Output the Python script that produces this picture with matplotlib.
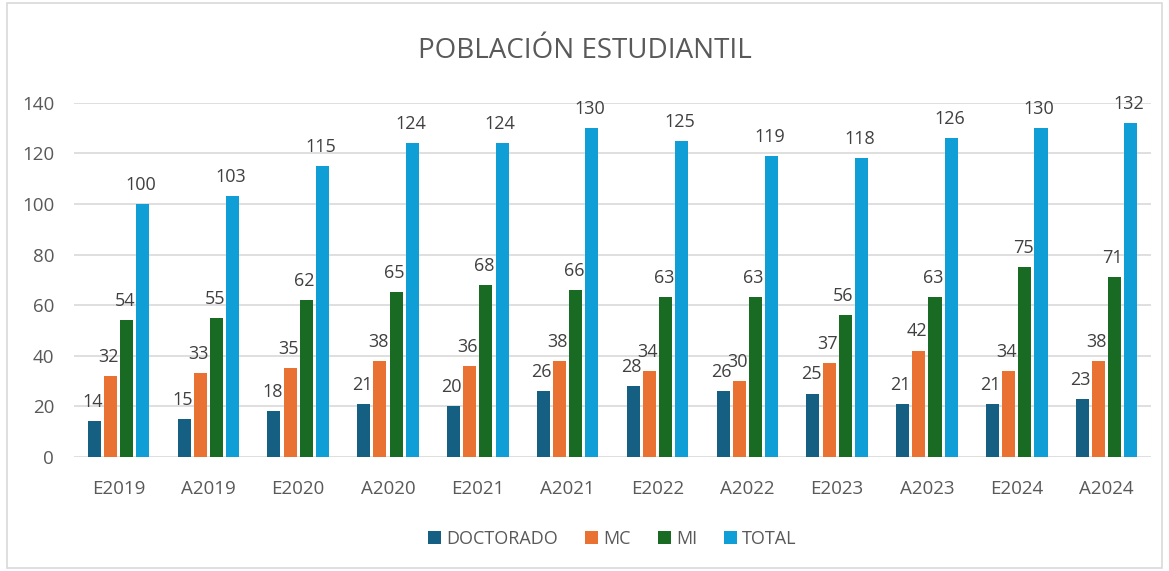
import matplotlib.pyplot as plt
import numpy as np

periodos = ['E2019', 'A2019', 'E2020', 'A2020', 'E2021', 'A2021',
            'E2022', 'A2022', 'E2023', 'A2023', 'E2024', 'A2024']
doctorado = [14, 15, 18, 21, 20, 26, 28, 26, 25, 21, 21, 23]
mc = [32, 33, 35, 38, 36, 38, 34, 30, 37, 42, 34, 38]
mi = [54, 55, 62, 65, 68, 66, 63, 63, 56, 63, 75, 71]
total = [100, 103, 115, 124, 124, 130, 125, 119, 118, 126, 130, 132]

series = [('DOCTORADO', doctorado, '#156082'),
          ('MC', mc, '#E97132'),
          ('MI', mi, '#196B24'),
          ('TOTAL', total, '#0F9ED5')]

plt.rcParams['font.family'] = ['Open Sans', 'DejaVu Sans']
gris = '#595959'

fig = plt.figure(figsize=(11.69, 5.71), dpi=100)
ax = fig.add_axes([0.063, 0.2, 0.922, 0.62])

x = np.arange(len(periodos))
w = 0.145
paso = 0.18
for i, (nombre, vals, color) in enumerate(series):
    pos = x + (i - 1.5) * paso
    ax.bar(pos, vals, w, color=color, label=nombre, zorder=3)
    for p, v in zip(pos, vals):
        ax.text(p - 0.02, v + 4, str(v), ha='center', va='bottom',
                fontsize=13, color='#404040')

ax.set_ylim(0, 140)
ax.set_yticks(range(0, 141, 20))
ax.set_xlim(-0.5, len(periodos) - 0.5)
ax.set_xticks(x)
ax.set_xticklabels(periodos)
ax.tick_params(axis='both', length=0, labelsize=13.5, colors=gris)
ax.tick_params(axis='x', pad=17)
ax.tick_params(axis='y', pad=14)
ax.grid(axis='y', color='#D9D9D9', linewidth=1.2, zorder=0)
for s in ax.spines.values():
    s.set_visible(False)

fig.text(0.5, 0.91, 'POBLACIÓN ESTUDIANTIL', ha='center', va='center',
         fontsize=20, color=gris)

ax.legend(loc='upper center', bbox_to_anchor=(0.5, -0.16), ncol=4,
          frameon=False, fontsize=13, labelcolor=gris, handlelength=0.7,
          handleheight=0.7, handletextpad=0.3, columnspacing=1.5)

fig.add_artist(plt.Rectangle((0.006, 0.005), 0.988, 0.99, fill=False,
                             edgecolor='#D9D9D9', linewidth=1.2,
                             transform=fig.transFigure))

fig.savefig('out.png', dpi=100)
